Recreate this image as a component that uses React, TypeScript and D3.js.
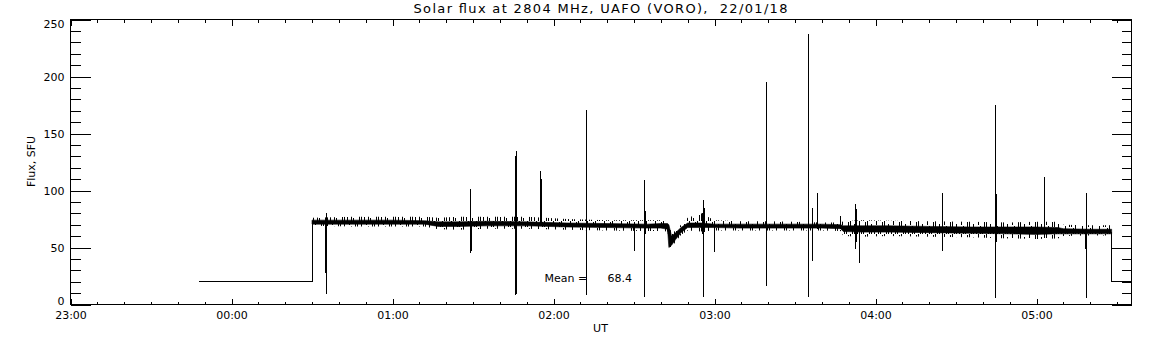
import React, { useRef, useEffect } from 'react';
import * as d3 from 'd3';

const WIDTH = 1152;
const HEIGHT = 345;
const MARGIN = { top: 19, right: 21, bottom: 41, left: 70 };
const FONT = 'DejaVu Sans, sans-serif';

const TITLE = 'Solar flux at 2804 MHz, UAFO (VORO),  22/01/18';
const X_LABEL = 'UT';
const Y_LABEL = 'Flux, SFU';
const MEAN_VALUE = 68.4;

const X_START = '23:00:00';
const X_END = '05:35:24';
const Y_MAJOR = [0, 50, 100, 150, 200, 250];

// receiver off / calibration level before and after the run
const leadTimes = ['23:48:00', '00:30:00', '00:30:00'];
const leadValues = [20, 20, 72];
const tailTimes = ['05:28:00', '05:28:00', '05:35:24'];
const tailValues = [64, 20, 20];

// flux band: dense core and noise excursions
const bandTimes = [
  '00:30:00', '00:45:00', '01:00:00', '01:12:00', '01:17:00', '01:25:00', '01:35:00',
  '01:50:00', '02:05:00', '02:20:00', '02:35:00', '02:40:00', '02:42:30', '02:43:00',
  '02:44:00', '02:45:30', '02:47:30', '02:50:00', '02:55:00', '03:00:00', '03:10:00',
  '03:20:00', '03:30:00', '03:40:00', '03:47:00', '03:48:00', '03:55:00', '04:05:00',
  '04:20:00', '04:35:00', '04:50:00', '05:00:00', '05:08:00', '05:10:00', '05:20:00',
  '05:28:00',
];
const coreLow = [
  70.5, 70.5, 70.5, 70.5, 68.5, 68.5, 69, 69, 68, 67.5, 67, 67, 66, 50,
  52, 57, 63, 67.5, 67.5, 67.5, 67, 67, 67, 67, 66.5, 64, 63.5, 63.5,
  63, 62.5, 62, 61.5, 62, 62, 62, 62,
];
const coreHigh = [
  74, 74, 74, 73.5, 72.5, 72.5, 73, 72.5, 71.5, 71, 70.5, 71, 71, 70,
  60, 63, 67.5, 71.5, 71.5, 70.5, 70.5, 70.5, 70.5, 70.5, 70, 69, 69, 69,
  68.5, 68, 68, 68, 67.5, 66.5, 66, 66,
];
const noiseLow = [
  69, 68.5, 68.5, 68.5, 66, 65.5, 66.5, 66.5, 65.5, 65, 64.5, 64.5, 64, 48,
  50, 55, 61, 65, 64, 65, 65, 65, 65, 65, 64.5, 60, 59.5, 60,
  59.5, 59, 58, 57.5, 58, 60, 60.5, 60.5,
];
const noiseHigh = [
  76, 77, 77, 77, 76, 77, 77, 77, 75, 74, 74, 74, 73, 72,
  62, 65, 70, 76, 80, 74, 73, 73, 72.5, 72, 72, 73, 74, 73.5,
  73, 72.5, 72, 72.5, 72.5, 70, 69.5, 69.5,
];

// interference spikes
const spikeTimes = [
  '00:35:17', '00:34:55', '01:29:10', '01:29:32', '01:45:44', '01:46:06', '01:55:10',
  '01:55:32', '02:12:25', '02:30:11', '02:34:02', '02:34:24', '02:55:48', '02:55:26',
  '02:56:10', '03:00:00', '03:19:30', '03:35:08', '03:36:24', '03:38:30', '03:47:00',
  '03:52:40', '03:53:02', '03:54:00', '04:24:52', '04:44:44', '04:45:06', '05:03:06',
  '05:18:38', '05:18:16',
];
const spikeTop = [
  80, 74, 101, 73, 130, 135, 117, 110, 171, 72, 109, 82, 92, 80,
  85, 70, 195, 237, 85, 98, 78, 88, 84, 70, 97.6, 175, 97, 112,
  98, 66,
];
const spikeBottom = [
  9, 28, 45, 47, 8, 9, 70, 70, 8, 47, 7, 62, 7, 62,
  64, 46, 16, 7, 38, 66, 66, 49, 55, 36, 47, 6, 55, 58,
  6, 49,
];

const parseClock = (s: string) => {
  const day = +s.slice(0, 2) >= 12 ? '2018-01-21' : '2018-01-22';
  return d3.utcParse('%Y-%m-%d %H:%M:%S')(`${day} ${s}`) as Date;
};

export default function App() {
  const svgRef = useRef<SVGSVGElement>(null);

  useEffect(() => {
    const svg = d3.select(svgRef.current);
    svg.selectAll('*').remove();

    const left = MARGIN.left;
    const right = WIDTH - MARGIN.right;
    const top = MARGIN.top;
    const bottom = HEIGHT - MARGIN.bottom;

    const x = d3.scaleUtc()
      .domain([parseClock(X_START), parseClock(X_END)])
      .range([left + 0.5, right + 0.5]);
    const y = d3.scaleLinear()
      .domain([0, 250])
      .range([bottom + 0.5, top + 0.5]);

    // irregular whisker texture for the noisy part of the trace
    const defs = svg.append('defs');
    const pat = defs.append('pattern')
      .attr('id', 'noise')
      .attr('patternUnits', 'userSpaceOnUse')
      .attr('width', 17).attr('height', 13);
    [[0, 0, 6], [2, 7, 6], [4, 3, 10], [7, 9, 4], [9, 0, 4], [11, 5, 8], [13, 10, 3], [15, 1, 5]]
      .forEach(([px, py, h]) => {
        pat.append('rect').attr('x', px).attr('y', py).attr('width', 1).attr('height', h).attr('fill', '#000');
      });

    const g = svg.append('g');

    const band = bandTimes.map((t, i) => ({
      t: parseClock(t), lo: coreLow[i], hi: coreHigh[i], nlo: noiseLow[i], nhi: noiseHigh[i],
    }));
    g.append('path')
      .datum(band)
      .attr('d', d3.area<any>().x(d => x(d.t)).y0(d => y(d.nlo)).y1(d => y(d.nhi)))
      .attr('fill', 'url(#noise)');

    // dense core of the trace
    g.append('path')
      .datum(band)
      .attr('d', d3.area<any>().x(d => x(d.t)).y0(d => y(d.lo)).y1(d => y(d.hi)))
      .attr('fill', '#000')
      .attr('stroke', '#000')
      .attr('stroke-width', 0.6);

    // step segments at both ends
    const stepLine = d3.line<any>().x(d => x(d.t)).y(d => y(d.v));
    [[leadTimes, leadValues], [tailTimes, tailValues]].forEach(([ts, vs]) => {
      g.append('path')
        .datum((ts as string[]).map((t, i) => ({ t: parseClock(t), v: (vs as number[])[i] })))
        .attr('d', stepLine)
        .attr('fill', 'none')
        .attr('stroke', '#000')
        .attr('stroke-width', 1)
        .attr('shape-rendering', 'crispEdges');
    });

    // spikes
    g.append('g')
      .selectAll('line')
      .data(spikeTimes.map((t, i) => ({ t: parseClock(t), top: spikeTop[i], bot: spikeBottom[i] })))
      .join('line')
      .attr('x1', d => Math.round(x(d.t) - 0.5) + 0.5)
      .attr('x2', d => Math.round(x(d.t) - 0.5) + 0.5)
      .attr('y1', d => y(d.top))
      .attr('y2', d => y(d.bot))
      .attr('stroke', '#000')
      .attr('stroke-width', 1)
      .attr('shape-rendering', 'crispEdges');

    // axes: IDL-style box with inward ticks on all sides
    const styleAxis = (a: any) => {
      a.select('.domain').remove();
      a.selectAll('line').attr('stroke', '#000').attr('shape-rendering', 'crispEdges');
      a.selectAll('text').attr('fill', '#000').attr('font-size', 11).attr('font-family', FONT);
      a.attr('font-family', FONT);
    };

    const hourTicks = x.ticks(d3.utcHour.every(1) as any);
    const minorX = x.ticks(d3.utcMinute.every(10) as any);
    const minorY = d3.range(0, 251, 10);

    svg.append('g').attr('transform', `translate(0,${bottom + 0.5})`)
      .call(d3.axisBottom(x).tickValues(minorX).tickSize(-3).tickFormat(() => ''))
      .call(styleAxis);
    svg.append('g').attr('transform', `translate(0,${bottom + 0.5})`)
      .call(d3.axisBottom(x).tickValues(hourTicks).tickSize(-6).tickPadding(7)
        .tickFormat(d => d3.utcFormat('%H:%M')(d as Date)))
      .call(styleAxis);
    svg.append('g').attr('transform', `translate(0,${top + 0.5})`)
      .call(d3.axisTop(x).tickValues(minorX).tickSize(-3).tickFormat(() => ''))
      .call(styleAxis);
    svg.append('g').attr('transform', `translate(0,${top + 0.5})`)
      .call(d3.axisTop(x).tickValues(hourTicks).tickSize(-6).tickFormat(() => ''))
      .call(styleAxis);

    svg.append('g').attr('transform', `translate(${left + 0.5},0)`)
      .call(d3.axisLeft(y).tickValues(minorY).tickSize(-10).tickFormat(() => ''))
      .call(styleAxis);
    svg.append('g').attr('transform', `translate(${left + 0.5},0)`)
      .call(d3.axisLeft(y).tickValues(Y_MAJOR).tickSize(-20).tickPadding(6))
      .call(styleAxis)
      .call(a => a.selectAll('text')
        .attr('dy', (d: any) => (d === 250 ? '0.74em' : d === 0 ? '0em' : '0.36em')));
    svg.append('g').attr('transform', `translate(${right + 0.5},0)`)
      .call(d3.axisRight(y).tickValues(minorY).tickSize(-10).tickFormat(() => ''))
      .call(styleAxis);
    svg.append('g').attr('transform', `translate(${right + 0.5},0)`)
      .call(d3.axisRight(y).tickValues(Y_MAJOR).tickSize(-20).tickFormat(() => ''))
      .call(styleAxis);

    // frame
    svg.append('rect')
      .attr('x', left + 0.5).attr('y', top + 0.5)
      .attr('width', right - left).attr('height', bottom - top)
      .attr('fill', 'none').attr('stroke', '#000')
      .attr('shape-rendering', 'crispEdges');

    // titles
    svg.append('text')
      .attr('x', (left + right) / 2).attr('y', 13)
      .attr('text-anchor', 'middle')
      .attr('font-family', FONT).attr('font-size', 13)
      .attr('textLength', 374).attr('lengthAdjust', 'spacing')
      .style('white-space', 'pre')
      .text(TITLE);
    svg.append('text')
      .attr('x', (left + right) / 2).attr('y', 332)
      .attr('text-anchor', 'middle')
      .attr('font-family', FONT).attr('font-size', 11)
      .text(X_LABEL);
    svg.append('text')
      .attr('transform', `translate(35,${(top + bottom) / 2}) rotate(-90)`)
      .attr('text-anchor', 'middle')
      .attr('font-family', FONT).attr('font-size', 11)
      .text(Y_LABEL);

    // mean annotation
    const meanX = x(parseClock('01:56:40'));
    const meanY = y(19.6);
    svg.append('text')
      .attr('x', meanX).attr('y', meanY)
      .attr('font-family', FONT).attr('font-size', 11)
      .text('Mean =');
    svg.append('text')
      .attr('x', meanX + 63).attr('y', meanY)
      .attr('font-family', FONT).attr('font-size', 11)
      .text(MEAN_VALUE.toFixed(1));
  }, []);

  return (
    <svg
      ref={svgRef}
      width={WIDTH}
      height={HEIGHT}
      style={{ position: 'absolute', left: 0, top: 0, background: '#fff' }}
    />
  );
}
